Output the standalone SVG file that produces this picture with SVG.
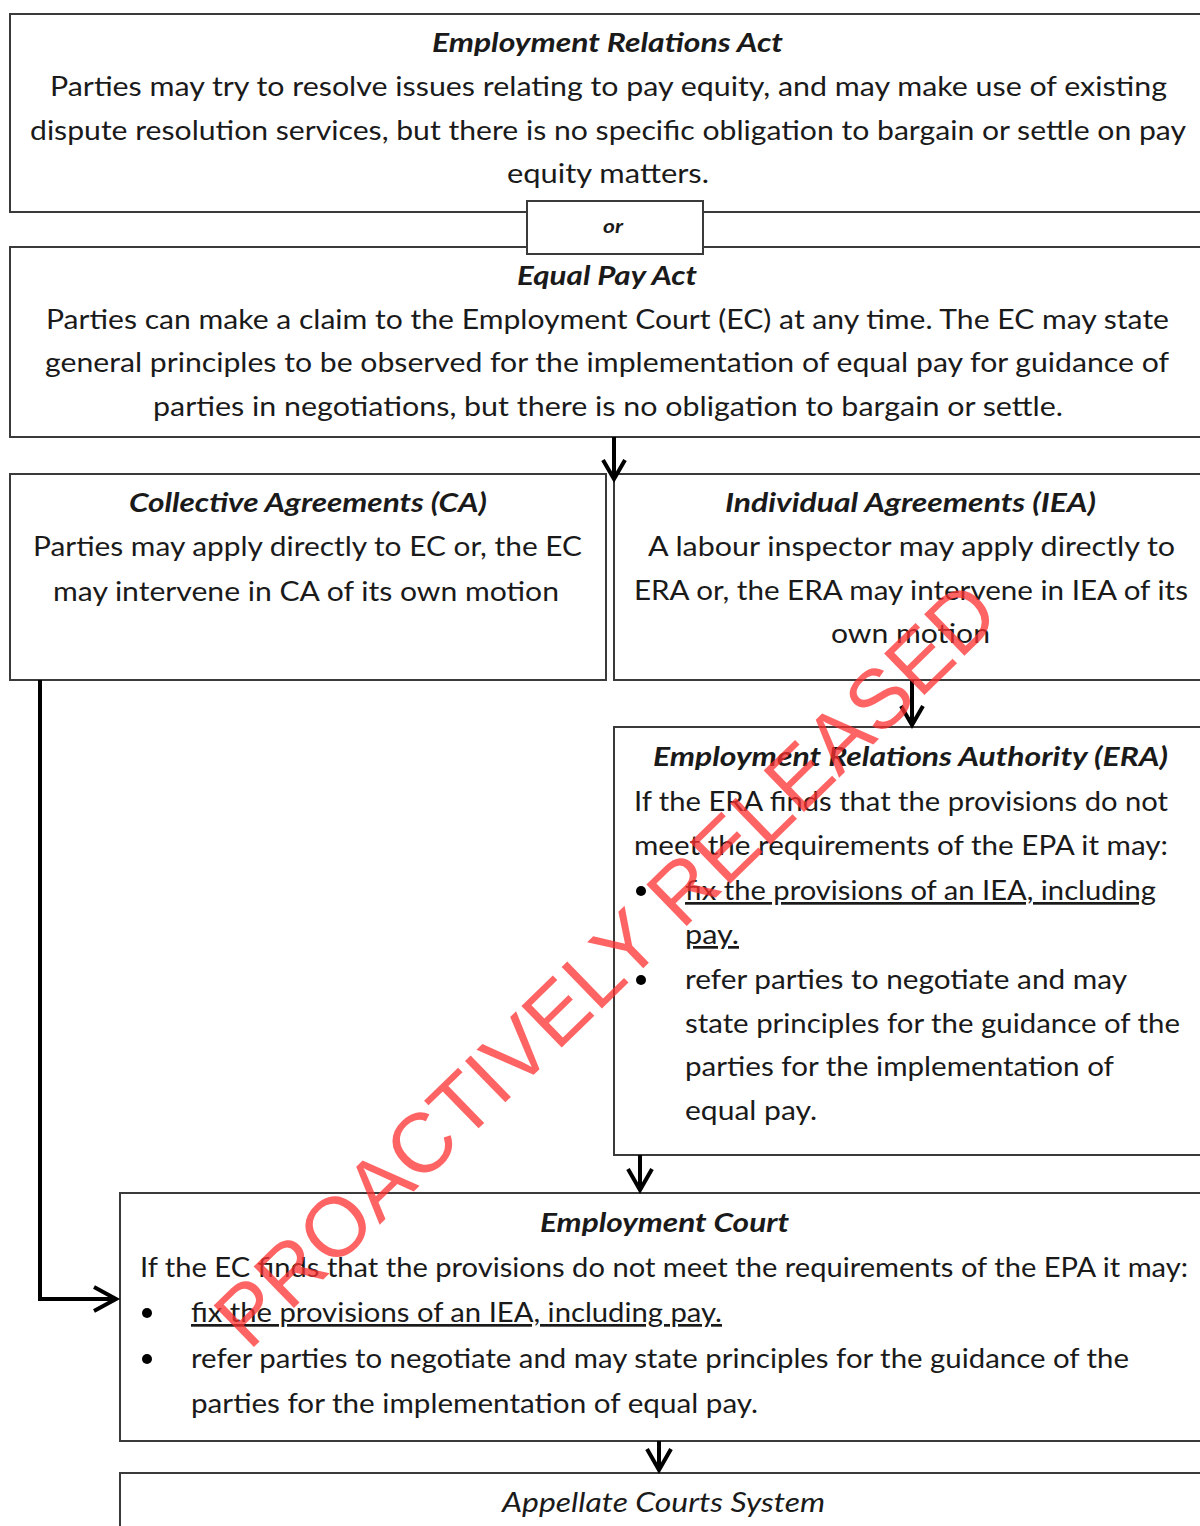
<svg xmlns="http://www.w3.org/2000/svg" width="1200" height="1526" viewBox="0 0 1200 1526">
<style>
.bg{fill:#fff}
.box{fill:#fff;stroke:#3a3a3a;stroke-width:2}
.t{font-family:Lato,"Open Sans","Liberation Sans",sans-serif;font-size:27px;fill:#1a1a1a}
.ti{font-weight:bold;font-style:italic}
.it{font-style:italic}
.u{text-decoration:underline}
.conn{fill:none;stroke:#000;stroke-width:4;stroke-linejoin:miter}
.bul{fill:#000}
.wm{font-family:"Liberation Sans",Arial,sans-serif;font-size:84px;fill:#ff3030;fill-opacity:0.75;text-anchor:middle}
</style>
<rect class="bg" x="0" y="0" width="1200" height="1526"/>

<g id="era-act">
<rect class="box" x="10" y="14" width="1200" height="198"/>
<text class="t ti" x="432" y="52" textLength="351" lengthAdjust="spacingAndGlyphs">Employment Relations Act</text>
<text class="t" x="50" y="96" textLength="1117" lengthAdjust="spacingAndGlyphs">Parties may try to resolve issues relating to pay equity, and may make use of existing</text>
<text class="t" x="30" y="140" textLength="1156" lengthAdjust="spacingAndGlyphs">dispute resolution services, but there is no specific obligation to bargain or settle on pay</text>
<text class="t" x="507" y="183" textLength="202" lengthAdjust="spacingAndGlyphs">equity matters.</text>
</g>

<g id="equal-pay-act">
<rect class="box" x="10" y="247" width="1200" height="190"/>
<text class="t ti" x="517" y="285" textLength="180" lengthAdjust="spacingAndGlyphs">Equal Pay Act</text>
<text class="t" x="46" y="329" textLength="1123" lengthAdjust="spacingAndGlyphs">Parties can make a claim to the Employment Court (EC) at any time. The EC may state</text>
<text class="t" x="45" y="372" textLength="1124" lengthAdjust="spacingAndGlyphs">general principles to be observed for the implementation of equal pay for guidance of</text>
<text class="t" x="153" y="416" textLength="910" lengthAdjust="spacingAndGlyphs">parties in negotiations, but there is no obligation to bargain or settle.</text>
</g>

<g id="or">
<rect class="box" x="527" y="201" width="176" height="53"/>
<text class="t ti" x="603" y="233" style="font-size:19px" textLength="20" lengthAdjust="spacingAndGlyphs">or</text>
</g>

<g id="collective">
<rect class="box" x="10" y="474" width="596" height="206"/>
<text class="t ti" x="129" y="512" textLength="358" lengthAdjust="spacingAndGlyphs">Collective Agreements (CA)</text>
<text class="t" x="33" y="556" textLength="549" lengthAdjust="spacingAndGlyphs">Parties may apply directly to EC or, the EC</text>
<text class="t" x="53" y="601" textLength="506" lengthAdjust="spacingAndGlyphs">may intervene in CA of its own motion</text>
</g>

<g id="individual">
<rect class="box" x="614" y="474" width="596" height="206"/>
<text class="t ti" x="725" y="512" textLength="371" lengthAdjust="spacingAndGlyphs">Individual Agreements (IEA)</text>
<text class="t" x="648" y="556" textLength="527" lengthAdjust="spacingAndGlyphs">A labour inspector may apply directly to</text>
<text class="t" x="634" y="600" textLength="554" lengthAdjust="spacingAndGlyphs">ERA or, the ERA may intervene in IEA of its</text>
<text class="t" x="831" y="643" textLength="159" lengthAdjust="spacingAndGlyphs">own motion</text>
</g>

<g id="authority">
<rect class="box" x="614" y="727" width="596" height="428"/>
<text class="t ti" x="653" y="766" textLength="515" lengthAdjust="spacingAndGlyphs">Employment Relations Authority (ERA)</text>
<text class="t" x="634" y="811" textLength="534" lengthAdjust="spacingAndGlyphs">If the ERA finds that the provisions do not</text>
<text class="t" x="634" y="855" textLength="534" lengthAdjust="spacingAndGlyphs">meet the requirements of the EPA it may:</text>
<circle class="bul" cx="641" cy="891" r="5"/>
<text class="t u" x="685" y="900" textLength="471" lengthAdjust="spacingAndGlyphs">fix the provisions of an IEA, including</text>
<text class="t u" x="685" y="944" textLength="54" lengthAdjust="spacingAndGlyphs">pay.</text>
<circle class="bul" cx="641" cy="980" r="5"/>
<text class="t" x="685" y="989" textLength="442" lengthAdjust="spacingAndGlyphs">refer parties to negotiate and may</text>
<text class="t" x="685" y="1033" textLength="495" lengthAdjust="spacingAndGlyphs">state principles for the guidance of the</text>
<text class="t" x="685" y="1076" textLength="429" lengthAdjust="spacingAndGlyphs">parties for the implementation of</text>
<text class="t" x="685" y="1120" textLength="132" lengthAdjust="spacingAndGlyphs">equal pay.</text>
</g>

<g id="court">
<rect class="box" x="120" y="1193" width="1090" height="248"/>
<text class="t ti" x="540" y="1232" textLength="249" lengthAdjust="spacingAndGlyphs">Employment Court</text>
<text class="t" x="140" y="1277" textLength="1048" lengthAdjust="spacingAndGlyphs">If the EC finds that the provisions do not meet the requirements of the EPA it may:</text>
<circle class="bul" cx="147" cy="1313" r="5"/>
<text class="t u" x="191" y="1322" textLength="531" lengthAdjust="spacingAndGlyphs">fix the provisions of an IEA, including pay.</text>
<circle class="bul" cx="147" cy="1359" r="5"/>
<text class="t" x="191" y="1368" textLength="938" lengthAdjust="spacingAndGlyphs">refer parties to negotiate and may state principles for the guidance of the</text>
<text class="t" x="191" y="1413" textLength="567" lengthAdjust="spacingAndGlyphs">parties for the implementation of equal pay.</text>
</g>

<g id="appellate">
<rect class="box" x="120" y="1473" width="1090" height="80"/>
<text class="t it" x="502" y="1512" textLength="323" lengthAdjust="spacingAndGlyphs">Appellate Courts System</text>
</g>

<g id="connectors">
<path class="conn" d="M614,437 V478"/>
<polyline class="conn" points="603,460 614,479 625,460"/>
<path class="conn" d="M912,680 V725"/>
<polyline class="conn" points="901,706 912,725 923,706"/>
<path class="conn" d="M640,1155 V1190"/>
<polyline class="conn" points="628,1169 640,1190 652,1169"/>
<path class="conn" d="M659,1441 V1470"/>
<polyline class="conn" points="647,1449 659,1470 671,1449"/>
<path class="conn" d="M40,680 V1299 H116"/>
<polyline class="conn" points="94,1287 116,1299 94,1311"/>
</g>

<text class="wm" x="626" y="985" transform="rotate(-44.2 626 985)">PROACTIVELY RELEASED</text>
</svg>
